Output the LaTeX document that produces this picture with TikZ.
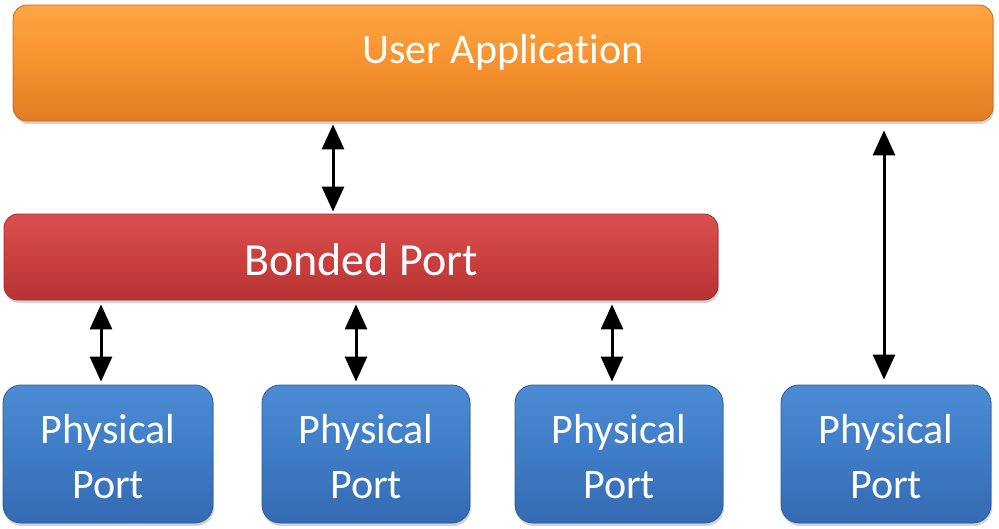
\documentclass[tikz,border=0pt]{standalone}
\usepackage{fontspec}
\setmainfont{Carlito}[Ligatures=NoCommon]
\usetikzlibrary{arrows.meta,shadows,calc}
\begin{document}
\begin{tikzpicture}[x=1pt,y=-1pt,
  boxbase/.style={rounded corners=14pt, inner sep=0pt, line width=0.8pt,
    drop shadow={shadow xshift=1pt, shadow yshift=-3pt, opacity=0.35}},
  orangebox/.style={boxbase, draw=orEdge, top color=orTop, bottom color=orBot, middle color=orMid},
  redbox/.style={boxbase, draw=rdEdge, top color=rdTop, bottom color=rdBot, middle color=rdMid},
  bluebox/.style={boxbase, draw=blEdge, top color=blTop, bottom color=blBot, middle color=blMid, rounded corners=18pt},
  txt/.style={font=\fontsize{42}{55}\selectfont, text=white, inner sep=0pt, align=center, anchor=base},
  bigtxt/.style={txt, font=\fontsize{46}{55}\selectfont},
  arr/.style={line width=3pt, {Triangle[width=22pt,length=25pt]}-{Triangle[width=22pt,length=25pt]}}
]
\definecolor{orTop}{RGB}{255,166,66}
\definecolor{orMid}{RGB}{246,146,46}
\definecolor{orBot}{RGB}{226,124,36}
\definecolor{orEdge}{RGB}{200,105,30}
\definecolor{rdTop}{RGB}{218,80,80}
\definecolor{rdMid}{RGB}{203,64,63}
\definecolor{rdBot}{RGB}{182,52,52}
\definecolor{rdEdge}{RGB}{160,42,42}
\definecolor{blTop}{RGB}{76,140,212}
\definecolor{blMid}{RGB}{63,124,198}
\definecolor{blBot}{RGB}{52,106,176}
\definecolor{blEdge}{RGB}{42,90,155}
\useasboundingbox (0,0) rectangle (999,528);

\node[orangebox, minimum width=980pt, minimum height=116pt] (app) at (503,63) {};
\node[txt] (apptext) at (app.center) {User Application};
\node[redbox, minimum width=714pt, minimum height=86pt] (bond) at (361,257) {};
\node[bigtxt] (bondtext) at ($(bond.center)+(0,18)$) {Bonded Port};

\node[bluebox, minimum width=210pt, minimum height=138pt] (p1) at (108,454) {};
\node[bluebox, minimum width=208pt, minimum height=138pt] (p2) at (366,454) {};
\node[bluebox, minimum width=208pt, minimum height=138pt] (p3) at (619,454) {};
\node[bluebox, minimum width=210pt, minimum height=138pt] (p4) at (886,454) {};
\node[txt] (t1) at ($(p1.center)+(0,44)$) {Physical\\Port};
\node[txt] (t2) at ($(p2.center)+(0,44)$) {Physical\\Port};
\node[txt] (t3) at ($(p3.center)+(0,44)$) {Physical\\Port};
\node[txt] (t4) at ($(p4.center)+(0,44)$) {Physical\\Port};

\coordinate (x0) at (333,0);
\coordinate (x1) at (101,0);
\coordinate (x2) at (356,0);
\coordinate (x3) at (612,0);
\coordinate (x4) at (884,0);

\draw[arr, shorten <=3pt, shorten >=2pt] (app.south -| x0) -- (bond.north -| x0);
\draw[arr, shorten <=4pt, shorten >=3pt] (bond.south -| x1) -- (p1.north -| x1);
\draw[arr, shorten <=4pt, shorten >=3pt] (bond.south -| x2) -- (p2.north -| x2);
\draw[arr, shorten <=4pt, shorten >=3pt] (bond.south -| x3) -- (p3.north -| x3);
\draw[arr, shorten <=9pt, shorten >=5pt] (app.south -| x4) -- (p4.north -| x4);
\end{tikzpicture}
\end{document}
